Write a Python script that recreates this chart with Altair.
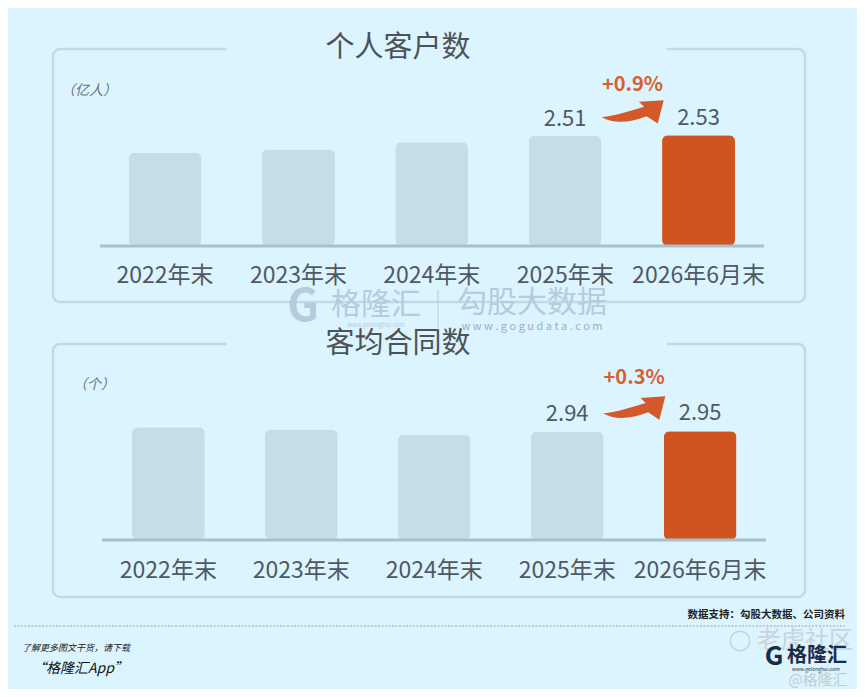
import altair as alt
import pandas as pd

# ---------------- data ----------------
categories = ["2022年末", "2023年末", "2024年末", "2025年末", "2026年6月末"]
customers = [2.13, 2.20, 2.37, 2.51, 2.53]          # 个人客户数 (亿人)
contracts = [3.06, 2.99, 2.86, 2.94, 2.95]          # 客均合同数 (个)
highlight = ["n", "n", "n", "n", "y"]
labeled = ["2025年末", "2026年6月末"]
growth_customers = "+0.9%"
growth_contracts = "+0.3%"
title_top = "个人客户数"
title_bottom = "客均合同数"
unit_top = "（亿人）"
unit_bottom = "（个）"

BG = "#dcf4fe"
BAR = "#c6dde7"
ORANGE = "#d0541f"
TXT = "#505963"
FONT = "Noto Sans CJK SC"

ARROW = ("M -4.88 -0.92 Q -4.02 -0.4 -2.6 -0.95 L -2.04 -0.58 L -1.74 -1.75 "
         "L -2.98 -1.67 L -2.72 -1.42 Q -4.64 -0.83 -4.88 -0.92 Z")

one = alt.Data(values=[{"a": 1}])


def panel(values, growth, title, unit, xrange, yrange, box_top, box_bottom,
          label_y, rule_x, title_y, unit_xy, pct_dy, val_dy):
    df = pd.DataFrame({"cat": categories, "val": values, "hl": highlight})
    base = alt.Chart(df)
    xenc = alt.X("cat:N", sort=categories, axis=None,
                 scale=alt.Scale(range=xrange, paddingInner=0.453, paddingOuter=0))
    yenc = alt.Y("val:Q", axis=None,
                 scale=alt.Scale(domain=[0, 5], range=yrange, nice=False, zero=True))

    box = alt.Chart(one).mark_rect(
        fillOpacity=0, stroke="#c4d9e3", strokeWidth=2.5, cornerRadius=7
    ).encode(x=alt.value(45), x2=alt.value(797), y=alt.value(box_top), y2=alt.value(box_bottom))
    gap = alt.Chart(one).mark_rect(fill=BG).encode(
        x=alt.value(219), x2=alt.value(659), y=alt.value(box_top - 5), y2=alt.value(box_top + 5))
    ttl = alt.Chart(one).mark_text(
        text=title, font=FONT, fontSize=29, color="#4b5259", baseline="middle", align="center"
    ).encode(x=alt.value(390), y=alt.value(title_y))
    unit_t = alt.Chart(one).mark_text(
        text=unit, font=FONT, fontSize=14, fontStyle="italic", color="#6b7177",
        baseline="middle", align="center"
    ).encode(x=alt.value(unit_xy[0]), y=alt.value(unit_xy[1]))

    bars = base.mark_bar(cornerRadius=6).encode(
        x=xenc, y=yenc,
        color=alt.Color("hl:N", scale=alt.Scale(domain=["n", "y"], range=[BAR, ORANGE]), legend=None),
    )
    baseline = alt.Chart(one).mark_rule(color="#a9bfcb", strokeWidth=3).encode(
        x=alt.value(rule_x[0]), x2=alt.value(rule_x[1]), y=alt.Y("z:Q", scale=None)
    ).transform_calculate(z=str(yrange[0]))
    xlabels = base.mark_text(font=FONT, fontSize=23, color=TXT, baseline="middle").encode(
        x=xenc, y=alt.value(label_y), text="cat:N")
    vals = base.transform_filter(
        alt.FieldOneOfPredicate(field="cat", oneOf=labeled)
    ).mark_text(font=FONT, fontSize=22, color=TXT, baseline="middle", dy=val_dy).encode(
        x=xenc, y=yenc, text=alt.Text("val:Q", format=".2f"))
    last = base.transform_filter(alt.datum.hl == "y")
    arrow = last.mark_point(shape=ARROW, size=1600, filled=True, opacity=1,
                            color="#d4592a", strokeWidth=0).encode(x=xenc, y=yenc)
    pct = last.mark_text(text=growth, font=FONT, fontSize=20, fontWeight="bold",
                         color="#d6602f", baseline="middle", dx=-66, dy=pct_dy).encode(x=xenc, y=yenc)
    return alt.layer(box, gap, ttl, unit_t, bars, baseline, xlabels, vals, arrow, pct)


top = panel(customers, growth_customers, title_top, unit_top,
            [120.6, 727], [238, 18.9], 41, 294, 268, (92, 756), 40, (81, 83), -50, -17)
bottom = panel(contracts, growth_contracts, title_bottom, unit_bottom,
               [124, 728.5], [532, 347.8], 336, 589, 563, (94, 758), 336, (86, 377), -53, -18)

# watermark & footer (decorative)
def txt(t, x, y, size, color, align="center", **kw):
    return alt.Chart(one).mark_text(text=t, font=FONT, fontSize=size, color=color,
                                    align=align, baseline="middle", **kw).encode(
        x=alt.value(x), y=alt.value(y))

wm_color = "#b6cbdc"
decor = alt.layer(
    txt("G", 295, 300, 44, wm_color, fontWeight="bold"),
    txt("格隆汇", 368, 297, 30, wm_color),
    txt("www.gelonghui.com", 368, 317, 6, wm_color),
    alt.Chart(one).mark_rule(color=wm_color, strokeWidth=1).encode(
        x=alt.value(430), y=alt.value(282), y2=alt.value(322)),
    txt("勾股大数据", 524, 295, 30, wm_color),
    txt("w w w . g o g u d a t a . c o m", 524, 319, 11, "#98afc8"),
    txt("数据支持：勾股大数据、公司资料", 837, 607, 10.5, "#222222", align="right", fontWeight="bold"),
    alt.Chart(one).mark_rule(color="#8a9096", strokeWidth=0.8, strokeDash=[2, 1.5]).encode(
        x=alt.value(6), x2=alt.value(837), y=alt.value(618)),
    txt("了解更多图文干货，请下载", 14, 640, 9, "#222222", align="left", fontStyle="italic"),
    txt("“格隆汇App”", 24, 661, 14, "#111111", align="left", fontStyle="italic"),
    txt("老虎社区", 797, 633, 24, "#c9d3da"),
    alt.Chart(one).mark_point(shape="circle", size=380, color="#c9d3da", strokeWidth=1.5,
                              filled=False, opacity=1).encode(x=alt.value(732), y=alt.value(633)),
    txt("G", 766, 649, 26, "#1d2b4a", fontWeight="bold"),
    txt("格隆汇", 809, 648, 20, "#1d2b4a", fontWeight="bold"),
    txt("www.gelonghui.com", 808, 660.5, 5, "#1d2b4a"),
    txt("@格隆汇", 810, 672, 15, "#c3ccd3"),
)

chart = alt.layer(top, bottom, decor).resolve_scale(x="independent", y="independent").properties(
    width=849, height=681, background=BG, padding=0,
    autosize=alt.AutoSizeParams(type="none"),
).configure_view(stroke=None)

chart.save("out.html", embed_options={"renderer": "svg", "actions": False})
